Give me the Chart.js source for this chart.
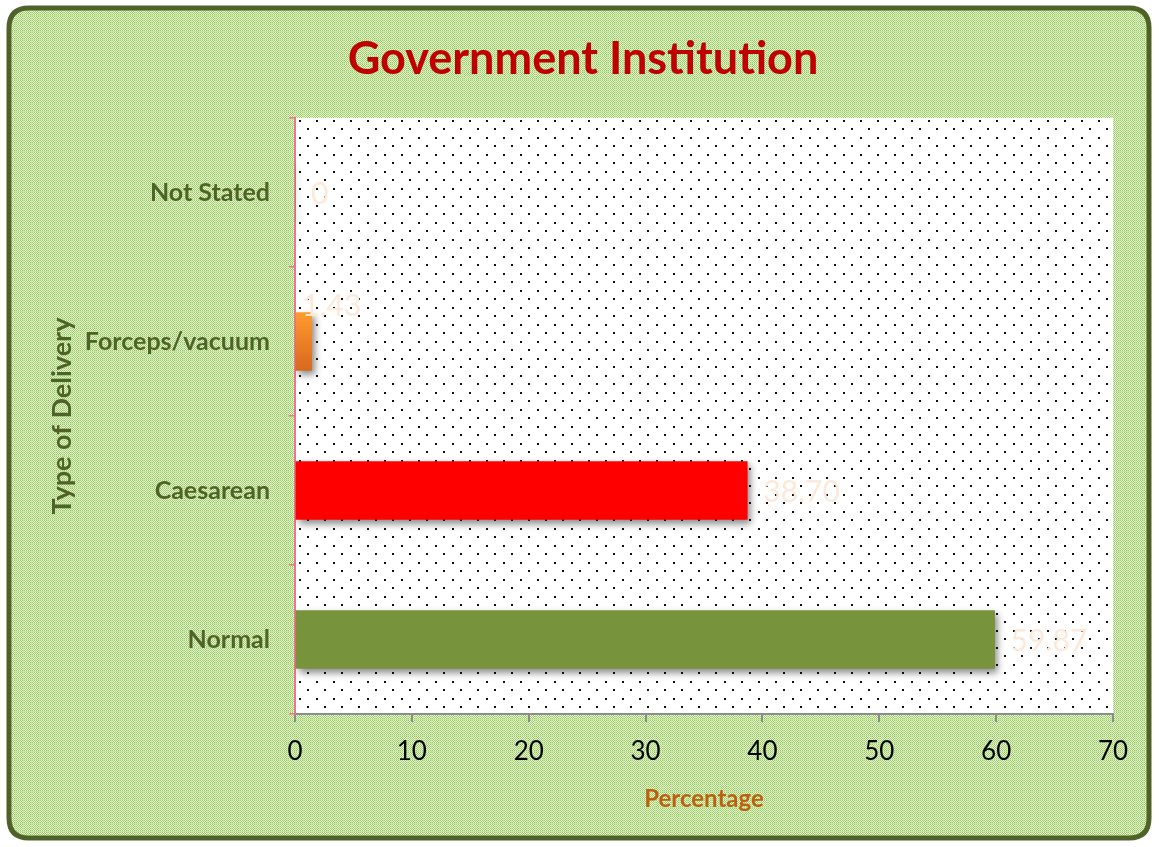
<!DOCTYPE html>
<html>
<head>
<meta charset="utf-8">
<script src="https://cdn.jsdelivr.net/npm/chart.js@4"></script>
<style>
  html, body { margin: 0; padding: 0; background: #fff; }
  #wrap { width: 1159px; height: 847px; }
</style>
</head>
<body>
<div id="wrap"><canvas id="delivery-chart" width="1159" height="847"></canvas></div>
<script>
//=========================== DATA ================================//
const categories = ['Not Stated', 'Forceps/vacuum', 'Caesarean', 'Normal'];
const percentages = [0, 1.43, 38.70, 59.87];
const valueLabels = ['0', '1.43', '38.70', '59.87'];
const barColors = ['#77933c', 'orange-gradient', '#ff0000', '#77933c'];
const xTicks = [0, 10, 20, 30, 40, 50, 60, 70];

//=========================== PATTERNS ================================//
function makeTile(w, h, draw){
    let c = document.createElement('canvas');
    c.width = w; c.height = h;
    draw(c.getContext('2d'));
    return c;
}
// green checker with a faint lattice, like the Excel fill
const greenTile = makeTile(8, 8, function(t){
    t.fillStyle = '#f4faee'; t.fillRect(0, 0, 8, 8);
    t.fillStyle = '#92d050';
    for (let i = 0; i < 8; i++){
        for (let j = 0; j < 8; j++){
            if ((i + j) % 2 === 0) t.fillRect(i, j, 1, 1);
        }
    }
    t.fillStyle = '#c4e6a2';
    t.fillRect(0, 7, 8, 1);
    t.fillRect(7, 0, 1, 8);
});
const dotTile = makeTile(17, 17, function(t){
    t.fillStyle = '#fff'; t.fillRect(0, 0, 17, 17);
    t.fillStyle = '#111';
    t.fillRect(10, 1, 2, 2);
    t.fillRect(1, 9, 2, 2);
});

function roundRect(ctx, x, y, w, h, r){
    ctx.beginPath();
    ctx.moveTo(x + r, y);
    ctx.lineTo(x + w - r, y);
    ctx.quadraticCurveTo(x + w, y, x + w, y + r);
    ctx.lineTo(x + w, y + h - r);
    ctx.quadraticCurveTo(x + w, y + h, x + w - r, y + h);
    ctx.lineTo(x + r, y + h);
    ctx.quadraticCurveTo(x, y + h, x, y + h - r);
    ctx.lineTo(x, y + r);
    ctx.quadraticCurveTo(x, y, x + r, y);
    ctx.closePath();
}

//=========================== PLUGINS ================================//
const backdrop = {
    id: 'backdrop',
    beforeDraw(chart){
        const ctx = chart.ctx;
        const a = chart.chartArea;
        ctx.save();
        ctx.fillStyle = '#fff';
        ctx.fillRect(0, 0, chart.width, chart.height);
        roundRect(ctx, 9, 8, chart.width - 19, chart.height - 17, 20);
        ctx.fillStyle = ctx.createPattern(greenTile, 'repeat');
        ctx.fill();
        ctx.lineWidth = 5;
        ctx.strokeStyle = '#4f6228';
        ctx.stroke();
        ctx.fillStyle = ctx.createPattern(dotTile, 'repeat');
        ctx.fillRect(a.left, a.top, a.right - a.left, a.bottom - a.top);
        ctx.restore();
    }
};

const barShadow = {
    id: 'barShadow',
    beforeDatasetsDraw(chart){
        const ctx = chart.ctx;
        ctx.save();
        ctx.shadowColor = 'rgba(0,0,0,0.45)';
        ctx.shadowBlur = 7;
        ctx.shadowOffsetX = 3;
        ctx.shadowOffsetY = 4;
    },
    afterDatasetsDraw(chart){
        chart.ctx.restore();
        const ctx = chart.ctx;
        const meta = chart.getDatasetMeta(0);
        ctx.save();
        ctx.font = '30px Lato, "Open Sans", sans-serif';
        ctx.fillStyle = '#fde9d9';
        ctx.textBaseline = 'middle';
        ctx.textAlign = 'left';
        meta.data.forEach(function(bar, i){
            let x = bar.x + 16;
            let y = bar.y + 2;
            if (i === 1) { x = bar.base + 6; y = bar.y - 35; }
            ctx.fillText(valueLabels[i], x, y);
        });
        ctx.restore();
    }
};

//=========================== CHART ================================//
const ctx = document.getElementById('delivery-chart').getContext('2d');
const deliveryChart = new Chart(ctx, {
    type: 'bar',
    data: {
        labels: categories,
        datasets: [{
            data: percentages,
            barThickness: 58,
            borderWidth: 0,
            backgroundColor: function(c){
                const col = barColors[c.dataIndex];
                if (col !== 'orange-gradient') return col;
                const y = c.chart.scales.y;
                if (!y) return '#f58a25';
                const mid = y.getPixelForValue(c.dataIndex);
                const g = c.chart.ctx.createLinearGradient(0, mid - 29, 0, mid + 29);
                g.addColorStop(0, '#ff9a30');
                g.addColorStop(1, '#d8691e');
                return g;
            }
        }]
    },
    options: {
        indexAxis: 'y',
        responsive: false,
        animation: false,
        layout: { padding: { left: 53, right: 46, top: 0, bottom: 0 } },
        plugins: {
            legend: { display: false },
            tooltip: { enabled: false },
            title: {
                display: true,
                text: 'Government Institution',
                color: '#c00000',
                font: { family: 'Lato, "Open Sans", sans-serif', size: 45, weight: 'bold' },
                padding: { top: 32, bottom: 32 }
            }
        },
        scales: {
            x: {
                min: 0,
                max: 70,
                afterBuildTicks: function(axis){
                    axis.ticks = xTicks.map(v => ({ value: v }));
                },
                afterFit: function(axis){ axis.height = 133; },
                grid: { drawOnChartArea: false, color: '#8c8c8c', tickLength: 8, lineWidth: 2 },
                border: { color: '#8c8c8c', width: 2 },
                ticks: {
                    color: '#000',
                    padding: 14,
                    font: { family: 'Lato, "Open Sans", sans-serif', size: 26 }
                },
                title: {
                    display: true,
                    text: 'Percentage',
                    color: '#c0600f',
                    font: { family: 'Lato, "Open Sans", sans-serif', size: 24, weight: 'bold' },
                    padding: { top: 12, bottom: 33 }
                }
            },
            y: {
                afterFit: function(axis){ axis.width = 242; },
                grid: { drawOnChartArea: false, color: '#f2728f', tickLength: 6, offset: true, lineWidth: 1.5 },
                border: { color: '#f2728f', width: 2 },
                ticks: {
                    color: '#4f6228',
                    padding: 19,
                    font: { family: 'Lato, "Open Sans", sans-serif', size: 25, weight: 'bold' }
                },
                title: {
                    display: true,
                    text: 'Type of Delivery',
                    color: '#4f6228',
                    font: { family: 'Lato, "Open Sans", sans-serif', size: 27, weight: 'bold', lineHeight: 1 },
                    padding: { top: -4, bottom: 0 }
                }
            }
        }
    },
    plugins: [backdrop, barShadow]
});
</script>
</body>
</html>
